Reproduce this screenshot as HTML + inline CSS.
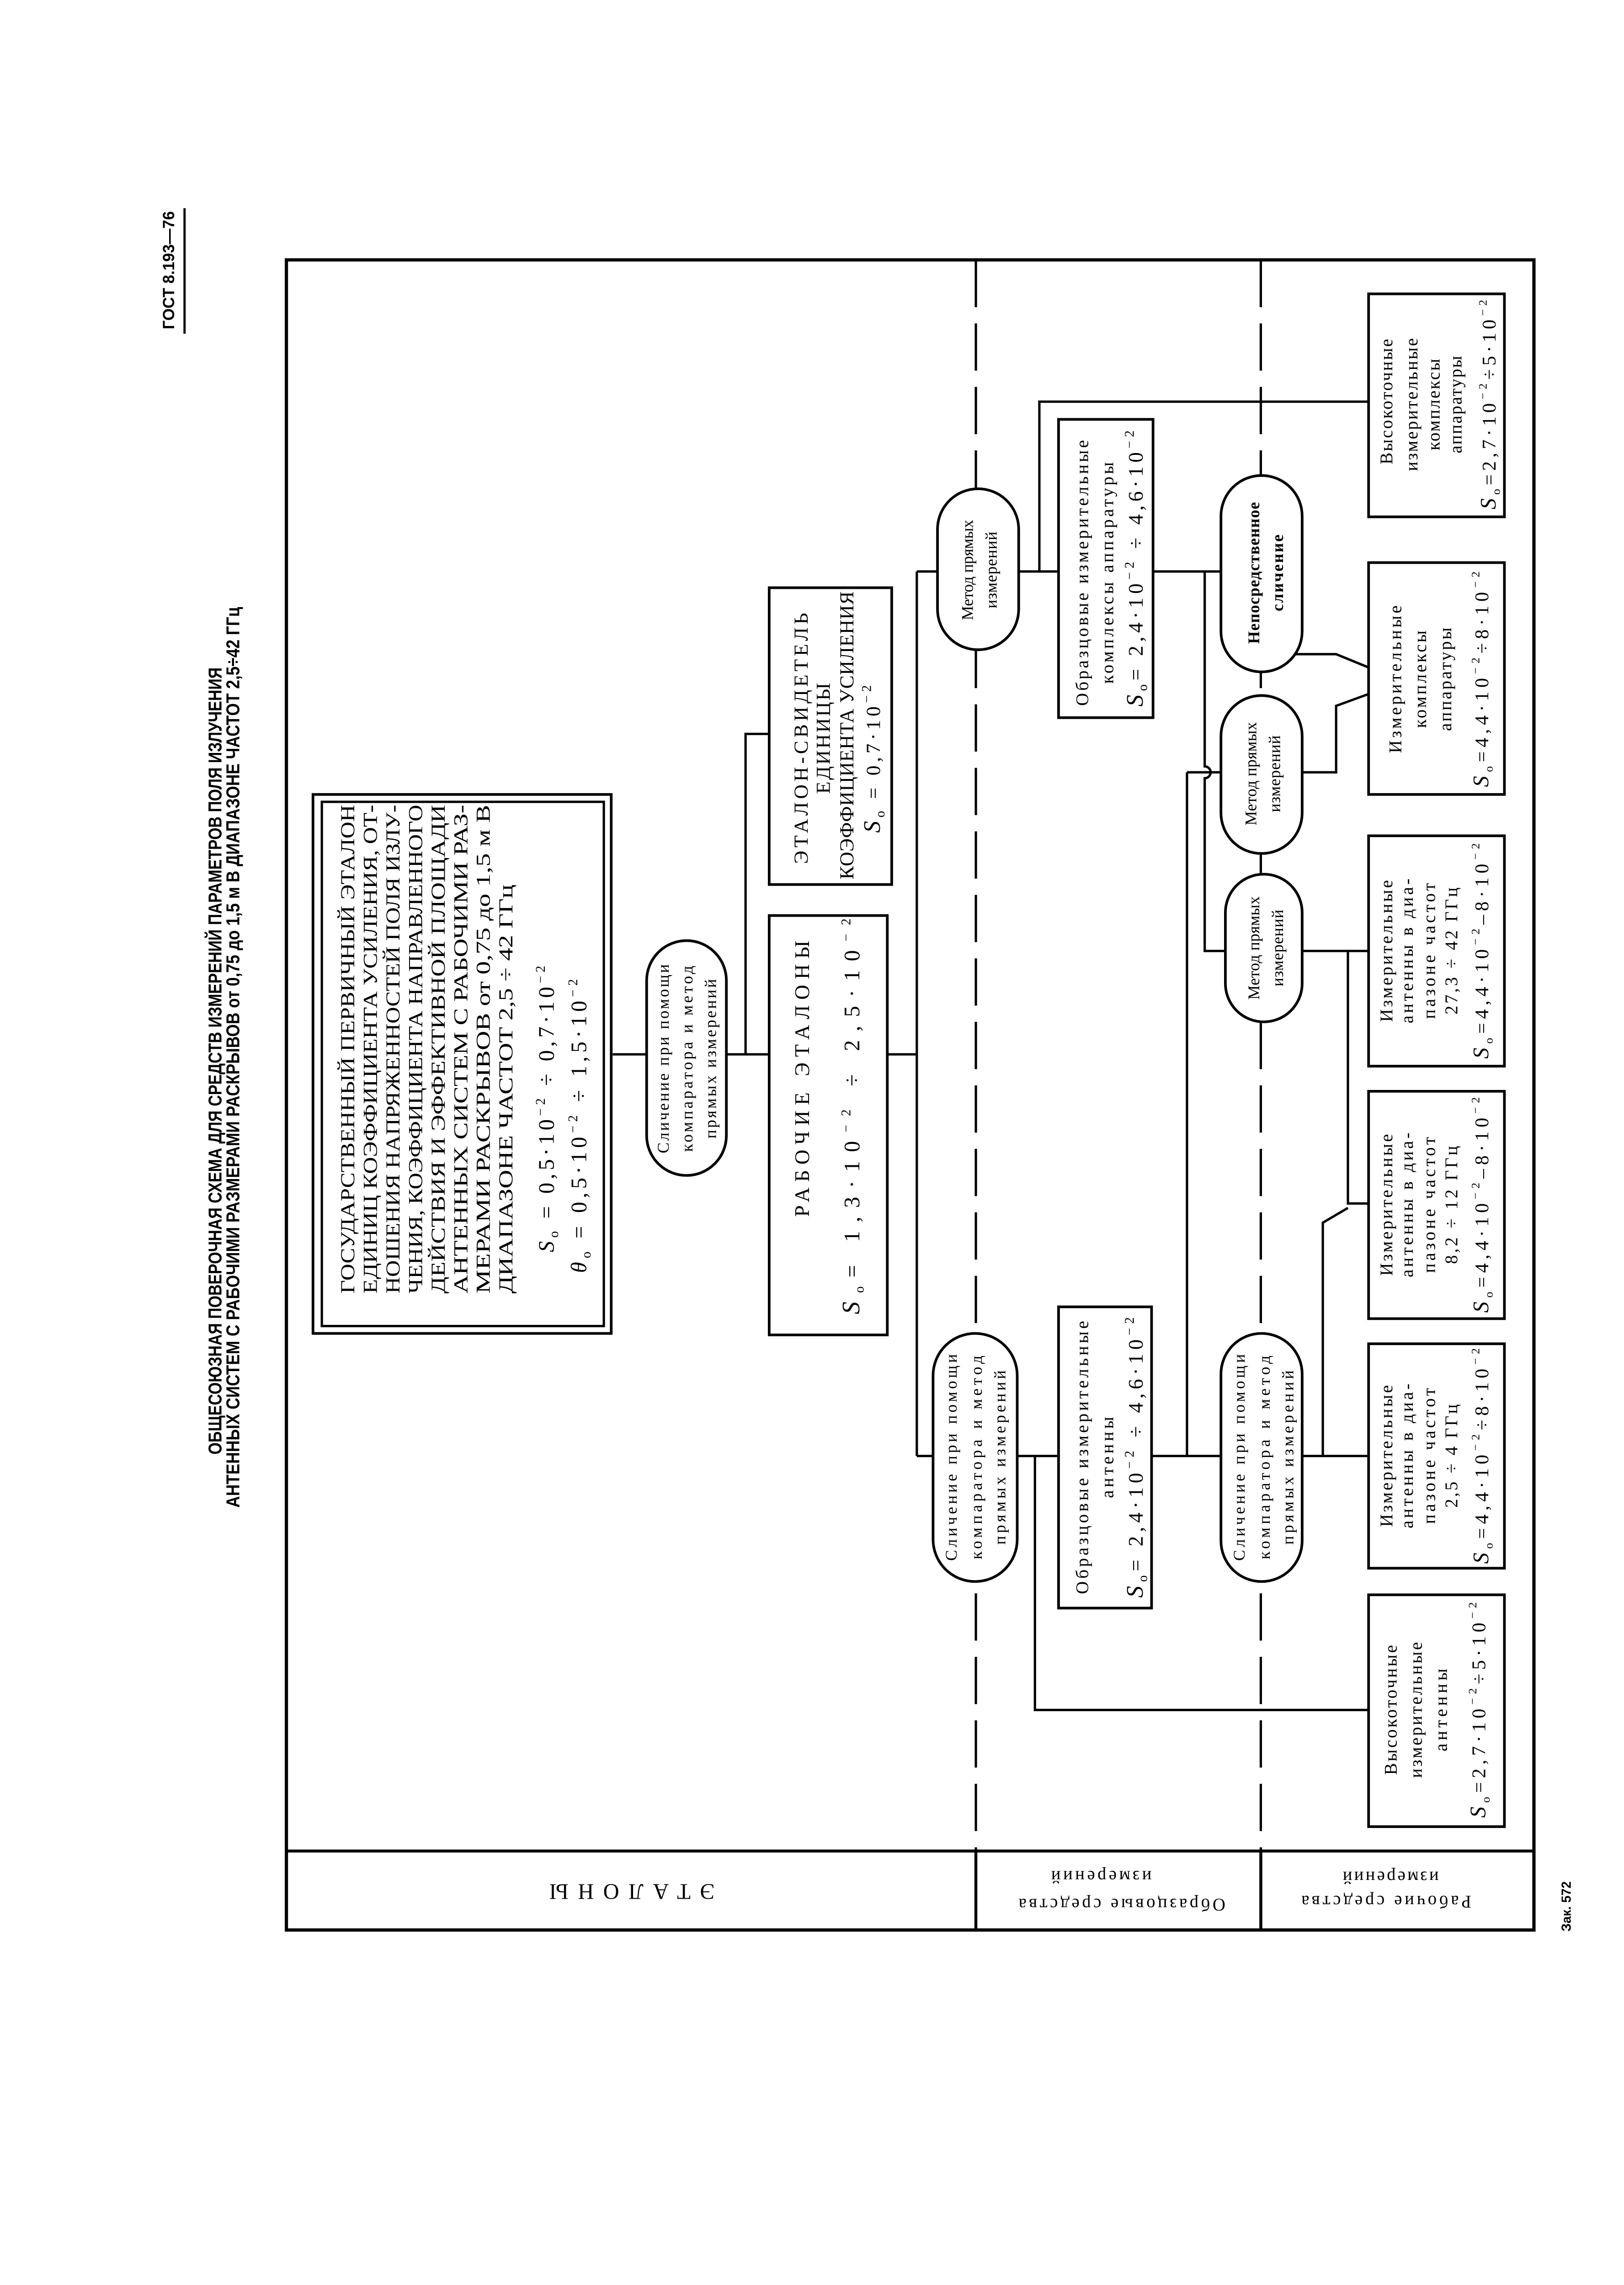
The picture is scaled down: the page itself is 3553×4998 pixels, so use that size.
<!DOCTYPE html>
<html><head><meta charset="utf-8">
<style>
html,body{margin:0;padding:0;background:#fff}
svg{display:block}
.t{font-family:"Liberation Serif","DejaVu Serif",serif;fill:#000}
.s{font-family:"Liberation Sans","DejaVu Sans",sans-serif;font-weight:bold;fill:#000}
.b{fill:#fff;stroke:#000;stroke-width:1.8}
.l{fill:none;stroke:#000;stroke-width:1.6}
</style></head>
<body>
<svg width="3553" height="4998" viewBox="0 0 1100 1547.4" preserveAspectRatio="none" xmlns="http://www.w3.org/2000/svg">
<rect x="0" y="0" width="1100" height="1547.4" fill="#fff"/>

<!-- header -->
<text class="s" font-size="11" transform="translate(118,223) rotate(-90)" textLength="80" lengthAdjust="spacingAndGlyphs">ГОСТ 8.193—76</text>
<line x1="125" y1="141" x2="125" y2="226" stroke="#000" stroke-width="1.5"/>
<text class="s" font-size="12.5" transform="translate(150,985) rotate(-90)" textLength="533" lengthAdjust="spacingAndGlyphs">ОБЩЕСОЮЗНАЯ ПОВЕРОЧНАЯ СХЕМА ДЛЯ СРЕДСТВ ИЗМЕРЕНИЙ ПАРАМЕТРОВ ПОЛЯ ИЗЛУЧЕНИЯ</text>
<text class="s" font-size="12.5" transform="translate(162,1021) rotate(-90)" textLength="610" lengthAdjust="spacingAndGlyphs">АНТЕННЫХ СИСТЕМ С РАБОЧИМИ РАЗМЕРАМИ РАСКРЫВОВ  от 0,75 до 1,5 м В ДИАПАЗОНЕ ЧАСТОТ 2,5÷42 ГГц</text>
<text class="s" font-size="9" transform="translate(1064,1308) rotate(-90)" textLength="34" lengthAdjust="spacingAndGlyphs">Зак. 572</text>

<!-- frame -->
<rect x="194" y="176" width="845" height="1131" fill="none" stroke="#000" stroke-width="2.2"/>
<line x1="194" y1="1253.5" x2="1039" y2="1253.5" stroke="#000" stroke-width="2"/>
<line x1="661" y1="176" x2="661" y2="1253" stroke="#000" stroke-width="1.6" stroke-dasharray="32 11"/>
<line x1="854" y1="176" x2="854" y2="1253" stroke="#000" stroke-width="1.6" stroke-dasharray="32 11"/>
<line x1="661" y1="1253" x2="661" y2="1307" stroke="#000" stroke-width="2"/>
<line x1="854" y1="1253" x2="854" y2="1307" stroke="#000" stroke-width="2"/>

<!-- row labels (upside down) -->
<text class="t" font-size="15" text-anchor="middle" transform="translate(428,1276) rotate(180)" textLength="112" lengthAdjust="spacing">ЭТАЛОНЫ</text>
<text class="t" font-size="12" text-anchor="middle" transform="translate(760,1286) rotate(180)" textLength="140" lengthAdjust="spacing">Образцовые средства</text>
<text class="t" font-size="12" text-anchor="middle" transform="translate(746,1267) rotate(180)" textLength="68" lengthAdjust="spacing">измерений</text>
<text class="t" font-size="12" text-anchor="middle" transform="translate(939,1284) rotate(180)" textLength="115" lengthAdjust="spacing">Рабочие средства</text>
<text class="t" font-size="12" text-anchor="middle" transform="translate(942,1267.5) rotate(180)" textLength="65" lengthAdjust="spacing">измерений</text>

<!-- connectors -->
<path class="l" d="M415,714 H438 M492,714 H521 M505,714 V497 H521 M601,714 H621 M621,387 V986 M621,387 H635 M690,387 H717 M704,387 V272 H927 M781,387 H827 M816,387 V519 A4,4 0 0 1 816,527 V644 H830 M804,523 H827 M804,523 V986 M621,986 H632 M689,986 H717 M701,986 V1158 H927 M780,986 H827 M882,986 H927 M896,986 V828 L913,818 M882,644 H927 M913,644 V815 H927 M877,443 H905 L927,452 M882,523 H905 V478 L927,470"/>

<!-- primary box -->
<rect class="b" x="212" y="538" width="202" height="365"/>
<rect x="218" y="543" width="191" height="355" fill="none" stroke="#000" stroke-width="1.6"/>
<g class="t" font-size="13.5">
<text transform="translate(240,876) rotate(-90)" textLength="331" lengthAdjust="spacingAndGlyphs">ГОСУДАРСТВЕННЫЙ ПЕРВИЧНЫЙ ЭТАЛОН</text>
<text transform="translate(255.3,876) rotate(-90)" textLength="331" lengthAdjust="spacingAndGlyphs">ЕДИНИЦ КОЭФФИЦИЕНТА УСИЛЕНИЯ, ОТ-</text>
<text transform="translate(270.6,876) rotate(-90)" textLength="331" lengthAdjust="spacingAndGlyphs">НОШЕНИЯ НАПРЯЖЕННОСТЕЙ ПОЛЯ ИЗЛУ-</text>
<text transform="translate(285.9,876) rotate(-90)" textLength="331" lengthAdjust="spacingAndGlyphs">ЧЕНИЯ, КОЭФФИЦИЕНТА НАПРАВЛЕННОГО</text>
<text transform="translate(301.2,876) rotate(-90)" textLength="331" lengthAdjust="spacingAndGlyphs">ДЕЙСТВИЯ И ЭФФЕКТИВНОЙ  ПЛОЩАДИ</text>
<text transform="translate(316.5,876) rotate(-90)" textLength="331" lengthAdjust="spacingAndGlyphs">АНТЕННЫХ СИСТЕМ С РАБОЧИМИ РАЗ-</text>
<text transform="translate(331.8,876) rotate(-90)" textLength="331" lengthAdjust="spacingAndGlyphs">МЕРАМИ РАСКРЫВОВ от 0,75 до 1,5 м В</text>
<text transform="translate(347,876) rotate(-90)" textLength="277" lengthAdjust="spacingAndGlyphs">ДИАПАЗОНЕ ЧАСТОТ  2,5 ÷ 42  ГГц</text>
<text font-size="15" transform="translate(375,848) rotate(-90)" textLength="194" lengthAdjust="spacing"><tspan font-style="italic">S</tspan><tspan font-size="9" dy="3">o</tspan><tspan dy="-3"> = 0,5·10</tspan><tspan font-size="9" dy="-6">−2</tspan><tspan dy="6"> ÷ 0,7·10</tspan><tspan font-size="9" dy="-6">−2</tspan></text>
<text font-size="15" transform="translate(397,862) rotate(-90)" textLength="199" lengthAdjust="spacing"><tspan font-style="italic">θ</tspan><tspan font-size="9" dy="3">o</tspan><tspan dy="-3"> = 0,5·10</tspan><tspan font-size="9" dy="-6">−2</tspan><tspan dy="6"> ÷ 1,5·10</tspan><tspan font-size="9" dy="-6">−2</tspan></text>
</g>

<!-- ovals -->
<rect class="b" x="438" y="637" width="54" height="159" rx="27" ry="27"/>
<rect class="b" x="635" y="331" width="55" height="109" rx="27.5" ry="27.5"/>
<rect class="b" x="632" y="903" width="57" height="168" rx="28.5" ry="28.5"/>
<rect class="b" x="827" y="322" width="55" height="133" rx="27.5" ry="27.5"/>
<rect class="b" x="827" y="471" width="55" height="107" rx="27.5" ry="27.5"/>
<rect class="b" x="830" y="592" width="52" height="100" rx="26" ry="26"/>
<rect class="b" x="827" y="903" width="55" height="168" rx="27.5" ry="27.5"/>

<g class="t" font-size="11" text-anchor="middle">
<text transform="translate(453,717) rotate(-90)" textLength="128" lengthAdjust="spacing">Сличение при помощи</text>
<text transform="translate(469,717) rotate(-90)" textLength="126" lengthAdjust="spacing">компаратора и метод</text>
<text transform="translate(485,717) rotate(-90)" textLength="108" lengthAdjust="spacing">прямых измерений</text>

<text transform="translate(659,386) rotate(-90)" textLength="68" lengthAdjust="spacing">Метод прямых</text>
<text transform="translate(675,386) rotate(-90)" textLength="52" lengthAdjust="spacing">измерений</text>

<text transform="translate(648,987) rotate(-90)" textLength="140" lengthAdjust="spacing">Сличение при помощи</text>
<text transform="translate(665,987) rotate(-90)" textLength="138" lengthAdjust="spacing">компаратора и метод</text>
<text transform="translate(681,987) rotate(-90)" textLength="118" lengthAdjust="spacing">прямых измерений</text>

<text class="t" font-weight="bold" transform="translate(853,388) rotate(-90)" textLength="96" lengthAdjust="spacing">Непосредственное</text>
<text font-weight="bold" transform="translate(869,388) rotate(-90)" textLength="52" lengthAdjust="spacing">сличение</text>

<text transform="translate(851,524) rotate(-90)" textLength="70" lengthAdjust="spacing">Метод прямых</text>
<text transform="translate(867,524) rotate(-90)" textLength="52" lengthAdjust="spacing">измерений</text>

<text transform="translate(853,642) rotate(-90)" textLength="70" lengthAdjust="spacing">Метод прямых</text>
<text transform="translate(869,642) rotate(-90)" textLength="52" lengthAdjust="spacing">измерений</text>

<text transform="translate(843,987) rotate(-90)" textLength="140" lengthAdjust="spacing">Сличение при помощи</text>
<text transform="translate(860,987) rotate(-90)" textLength="138" lengthAdjust="spacing">компаратора и метод</text>
<text transform="translate(876,987) rotate(-90)" textLength="118" lengthAdjust="spacing">прямых измерений</text>
</g>

<!-- etalon boxes -->
<rect class="b" x="521" y="620" width="80" height="284"/>
<rect class="b" x="521" y="398" width="83" height="201"/>
<g class="t" font-size="14">
<text transform="translate(548,824) rotate(-90)" textLength="187" lengthAdjust="spacing">РАБОЧИЕ ЭТАЛОНЫ</text>
<text font-size="15" transform="translate(582,890) rotate(-90)" textLength="268" lengthAdjust="spacing"><tspan font-style="italic" font-size="17">S</tspan><tspan font-size="9" dy="3">o</tspan><tspan dy="-3">= 1,3·10</tspan><tspan font-size="9" dy="-6">−2</tspan><tspan dy="6">  ÷  2,5·10</tspan><tspan font-size="9" dy="-6">−2</tspan></text>
</g>
<g class="t" font-size="13.5" text-anchor="middle">
<text transform="translate(547,500) rotate(-90)" textLength="170" lengthAdjust="spacing">ЭТАЛОН-СВИДЕТЕЛЬ</text>
<text transform="translate(562,500) rotate(-90)" textLength="75" lengthAdjust="spacing">ЕДИНИЦЫ</text>
<text transform="translate(578,498) rotate(-90)" textLength="195" lengthAdjust="spacing">КОЭФФИЦИЕНТА УСИЛЕНИЯ</text>
<text transform="translate(596,514) rotate(-90)" textLength="100" lengthAdjust="spacing"><tspan font-style="italic" font-size="16">S</tspan><tspan font-size="9" dy="3">o</tspan><tspan dy="-3"> = 0,7·10</tspan><tspan font-size="9" dy="-6">−2</tspan></text>
</g>

<!-- obrazcovye boxes -->
<rect class="b" x="717" y="284" width="64" height="202"/>
<rect class="b" x="717" y="885" width="63" height="204"/>
<g class="t" font-size="12" text-anchor="middle">
<text transform="translate(737,388) rotate(-90)" textLength="180" lengthAdjust="spacing">Образцовые измерительные</text>
<text transform="translate(754,388) rotate(-90)" textLength="150" lengthAdjust="spacing">комплексы аппаратуры</text>
<text font-size="14" transform="translate(774,385) rotate(-90)" textLength="187" lengthAdjust="spacing"><tspan font-style="italic" font-size="16">S</tspan><tspan font-size="9" dy="3">o</tspan><tspan dy="-3">= 2,4·10</tspan><tspan font-size="9" dy="-6">−2</tspan><tspan dy="6">  ÷  4,6·10</tspan><tspan font-size="9" dy="-6">−2</tspan></text>

<text transform="translate(737,987) rotate(-90)" textLength="185" lengthAdjust="spacing">Образцовые измерительные</text>
<text transform="translate(754,987) rotate(-90)" textLength="55" lengthAdjust="spacing">антенны</text>
<text font-size="14" transform="translate(774,987) rotate(-90)" textLength="190" lengthAdjust="spacing"><tspan font-style="italic" font-size="16">S</tspan><tspan font-size="9" dy="3">o</tspan><tspan dy="-3">= 2,4·10</tspan><tspan font-size="9" dy="-6">−2</tspan><tspan dy="6">  ÷  4,6·10</tspan><tspan font-size="9" dy="-6">−2</tspan></text>
</g>

<!-- right column boxes -->
<rect class="b" x="927" y="199" width="92" height="151"/>
<rect class="b" x="927" y="381" width="92" height="157"/>
<rect class="b" x="927" y="566" width="92" height="156"/>
<rect class="b" x="927" y="739" width="92" height="154"/>
<rect class="b" x="927" y="910" width="92" height="152"/>
<rect class="b" x="927" y="1080" width="92" height="157"/>
<g class="t" font-size="12" text-anchor="middle">
<!-- box 1 -->
<text transform="translate(943,272) rotate(-90)" textLength="85" lengthAdjust="spacing">Высокоточные</text>
<text transform="translate(960,274) rotate(-90)" textLength="90" lengthAdjust="spacing">измерительные</text>
<text transform="translate(975,274) rotate(-90)" textLength="62" lengthAdjust="spacing">комплексы</text>
<text transform="translate(990,274) rotate(-90)" textLength="66" lengthAdjust="spacing">аппаратуры</text>
<text font-size="13" transform="translate(1013,274) rotate(-90)" textLength="142" lengthAdjust="spacing"><tspan font-style="italic" font-size="15">S</tspan><tspan font-size="8" dy="3">o</tspan><tspan dy="-3">=2,7·10</tspan><tspan font-size="8" dy="-6">−2</tspan><tspan dy="6">÷5·10</tspan><tspan font-size="8" dy="-6">−2</tspan></text>
<!-- box 2 -->
<text transform="translate(949,460) rotate(-90)" textLength="100" lengthAdjust="spacing">Измерительные</text>
<text transform="translate(966,460) rotate(-90)" textLength="66" lengthAdjust="spacing">комплексы</text>
<text transform="translate(983,460) rotate(-90)" textLength="70" lengthAdjust="spacing">аппаратуры</text>
<text font-size="13" transform="translate(1008,460) rotate(-90)" textLength="146" lengthAdjust="spacing"><tspan font-style="italic" font-size="15">S</tspan><tspan font-size="8" dy="3">o</tspan><tspan dy="-3">=4,4·10</tspan><tspan font-size="8" dy="-6">−2</tspan><tspan dy="6">÷8·10</tspan><tspan font-size="8" dy="-6">−2</tspan></text>
<!-- box 3 -->
<text transform="translate(943,644) rotate(-90)" textLength="96" lengthAdjust="spacing">Измерительные</text>
<text transform="translate(957,644) rotate(-90)" textLength="98" lengthAdjust="spacing">антенны в диа-</text>
<text transform="translate(972,644) rotate(-90)" textLength="92" lengthAdjust="spacing">пазоне частот</text>
<text transform="translate(987,644) rotate(-90)" textLength="86" lengthAdjust="spacing">27,3 ÷ 42 ГГц</text>
<text font-size="13" transform="translate(1008,644) rotate(-90)" textLength="146" lengthAdjust="spacing"><tspan font-style="italic" font-size="15">S</tspan><tspan font-size="8" dy="3">o</tspan><tspan dy="-3">=4,4·10</tspan><tspan font-size="8" dy="-6">−2</tspan><tspan dy="6">–8·10</tspan><tspan font-size="8" dy="-6">−2</tspan></text>
<!-- box 4 -->
<text transform="translate(943,816) rotate(-90)" textLength="96" lengthAdjust="spacing">Измерительные</text>
<text transform="translate(957,816) rotate(-90)" textLength="98" lengthAdjust="spacing">антенны в диа-</text>
<text transform="translate(972,816) rotate(-90)" textLength="92" lengthAdjust="spacing">пазоне частот</text>
<text transform="translate(987,816) rotate(-90)" textLength="80" lengthAdjust="spacing">8,2 ÷ 12 ГГц</text>
<text font-size="13" transform="translate(1008,816) rotate(-90)" textLength="146" lengthAdjust="spacing"><tspan font-style="italic" font-size="15">S</tspan><tspan font-size="8" dy="3">o</tspan><tspan dy="-3">=4,4·10</tspan><tspan font-size="8" dy="-6">−2</tspan><tspan dy="6">–8·10</tspan><tspan font-size="8" dy="-6">−2</tspan></text>
<!-- box 5 -->
<text transform="translate(943,986) rotate(-90)" textLength="96" lengthAdjust="spacing">Измерительные</text>
<text transform="translate(957,986) rotate(-90)" textLength="98" lengthAdjust="spacing">антенны в диа-</text>
<text transform="translate(972,986) rotate(-90)" textLength="92" lengthAdjust="spacing">пазоне частот</text>
<text transform="translate(987,986) rotate(-90)" textLength="70" lengthAdjust="spacing">2,5 ÷ 4 ГГц</text>
<text font-size="13" transform="translate(1008,986) rotate(-90)" textLength="146" lengthAdjust="spacing"><tspan font-style="italic" font-size="15">S</tspan><tspan font-size="8" dy="3">o</tspan><tspan dy="-3">=4,4·10</tspan><tspan font-size="8" dy="-6">−2</tspan><tspan dy="6">÷8·10</tspan><tspan font-size="8" dy="-6">−2</tspan></text>
<!-- box 6 -->
<text transform="translate(946,1158) rotate(-90)" textLength="88" lengthAdjust="spacing">Высокоточные</text>
<text transform="translate(963,1158) rotate(-90)" textLength="92" lengthAdjust="spacing">измерительные</text>
<text transform="translate(980,1158) rotate(-90)" textLength="56" lengthAdjust="spacing">антенны</text>
<text font-size="13" transform="translate(1006,1158) rotate(-90)" textLength="146" lengthAdjust="spacing"><tspan font-style="italic" font-size="15">S</tspan><tspan font-size="8" dy="3">o</tspan><tspan dy="-3">=2,7·10</tspan><tspan font-size="8" dy="-6">−2</tspan><tspan dy="6">÷5·10</tspan><tspan font-size="8" dy="-6">−2</tspan></text>
</g>
</svg>
</body></html>
